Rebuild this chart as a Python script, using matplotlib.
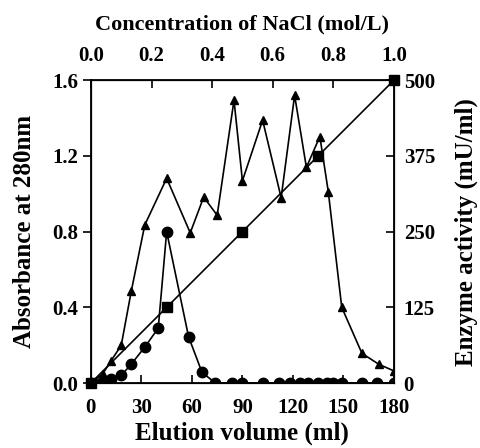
import matplotlib.pyplot as plt

plt.rcParams['font.family'] = 'Liberation Serif'
plt.rcParams['font.weight'] = 'bold'
plt.rcParams['font.size'] = 15

# absorbance at 280 nm (circles)
vol_abs = [0, 6, 12, 18, 24, 32, 40, 45, 58, 66, 74, 84, 90, 102, 112, 118,
           124, 129, 135, 140, 144, 149, 161, 170, 180]
absorb = [0.0, 0.0, 0.02, 0.04, 0.1, 0.19, 0.29, 0.8, 0.245, 0.056, 0, 0, 0, 0,
          0, 0, 0, 0, 0, 0, 0, 0, 0, 0, 0]

# enzyme activity (triangles)
vol_enz = [0, 7, 12, 18, 24, 32, 45, 59, 67, 75, 85, 90, 102, 113, 121, 128,
           136, 141, 149, 161, 171, 180]
enzyme = [0, 15, 37, 62, 152, 261, 338, 248, 307, 277, 467, 334, 434, 306,
          475, 356, 407, 316, 125, 49, 31, 20]

# NaCl gradient (squares)
vol_nacl = [0, 45, 90, 135, 180]
nacl = [0.0, 0.25, 0.5, 0.75, 1.0]

fig = plt.figure(figsize=(4.81, 4.48), dpi=100)
ax = fig.add_axes([0.189, 0.145, 0.63, 0.676])

ax.plot(vol_abs, absorb, 'k-o', lw=1.2, ms=7.5)
ax.set_xlim(0, 180)
ax.set_ylim(0, 1.6)
ax.set_xticks([0, 30, 60, 90, 120, 150, 180])
ax.set_yticks([0.0, 0.4, 0.8, 1.2, 1.6])
ax.set_yticklabels(['0.0', '0.4', '0.8', '1.2', '1.6'])
ax.tick_params(axis='x', direction='in', length=6, width=1.2, pad=11)
ax.tick_params(axis='y', direction='out', length=6, width=1.2, pad=3)
ax.set_xlabel('Elution volume (ml)', fontsize=18, fontweight='bold', labelpad=2)
ax.set_ylabel('Absorbance at 280nm', fontsize=18, fontweight='bold', labelpad=12)
for s in ax.spines.values():
    s.set_linewidth(1.3)

# right axis: enzyme activity
ax2 = ax.twinx()
ax2.plot(vol_enz, enzyme, 'k-^', lw=1.2, ms=5.5)
ax2.set_ylim(0, 500)
ax2.set_yticks([0, 125, 250, 375, 500])
ax2.tick_params(axis='y', direction='in', length=6, width=1.2, pad=7)
ax2.set_ylabel('Enzyme activity (mU/ml)', fontsize=18, fontweight='bold', labelpad=14)

# hidden axis for the gradient
ax3 = ax.twinx()
ax3.plot(vol_nacl, nacl, 'k-s', lw=1.2, ms=7.5, clip_on=False)
ax3.set_ylim(0, 1)
ax3.axis('off')

# top axis: NaCl concentration
axt = ax.twiny()
axt.set_xlim(0, 1.0)
axt.set_xticks([0.0, 0.2, 0.4, 0.6, 0.8, 1.0])
axt.set_xticklabels(['0.0', '0.2', '0.4', '0.6', '0.8', '1.0'])
axt.tick_params(axis='x', direction='in', length=6, width=1.2, pad=10)
axt.set_xlabel('Concentration of NaCl (mol/L)', fontsize=16, fontweight='bold', labelpad=12)

for a in (ax, ax2, axt):
    for lab in a.get_xticklabels() + a.get_yticklabels():
        lab.set_fontweight('bold')

fig.savefig('out.png', dpi=100)
